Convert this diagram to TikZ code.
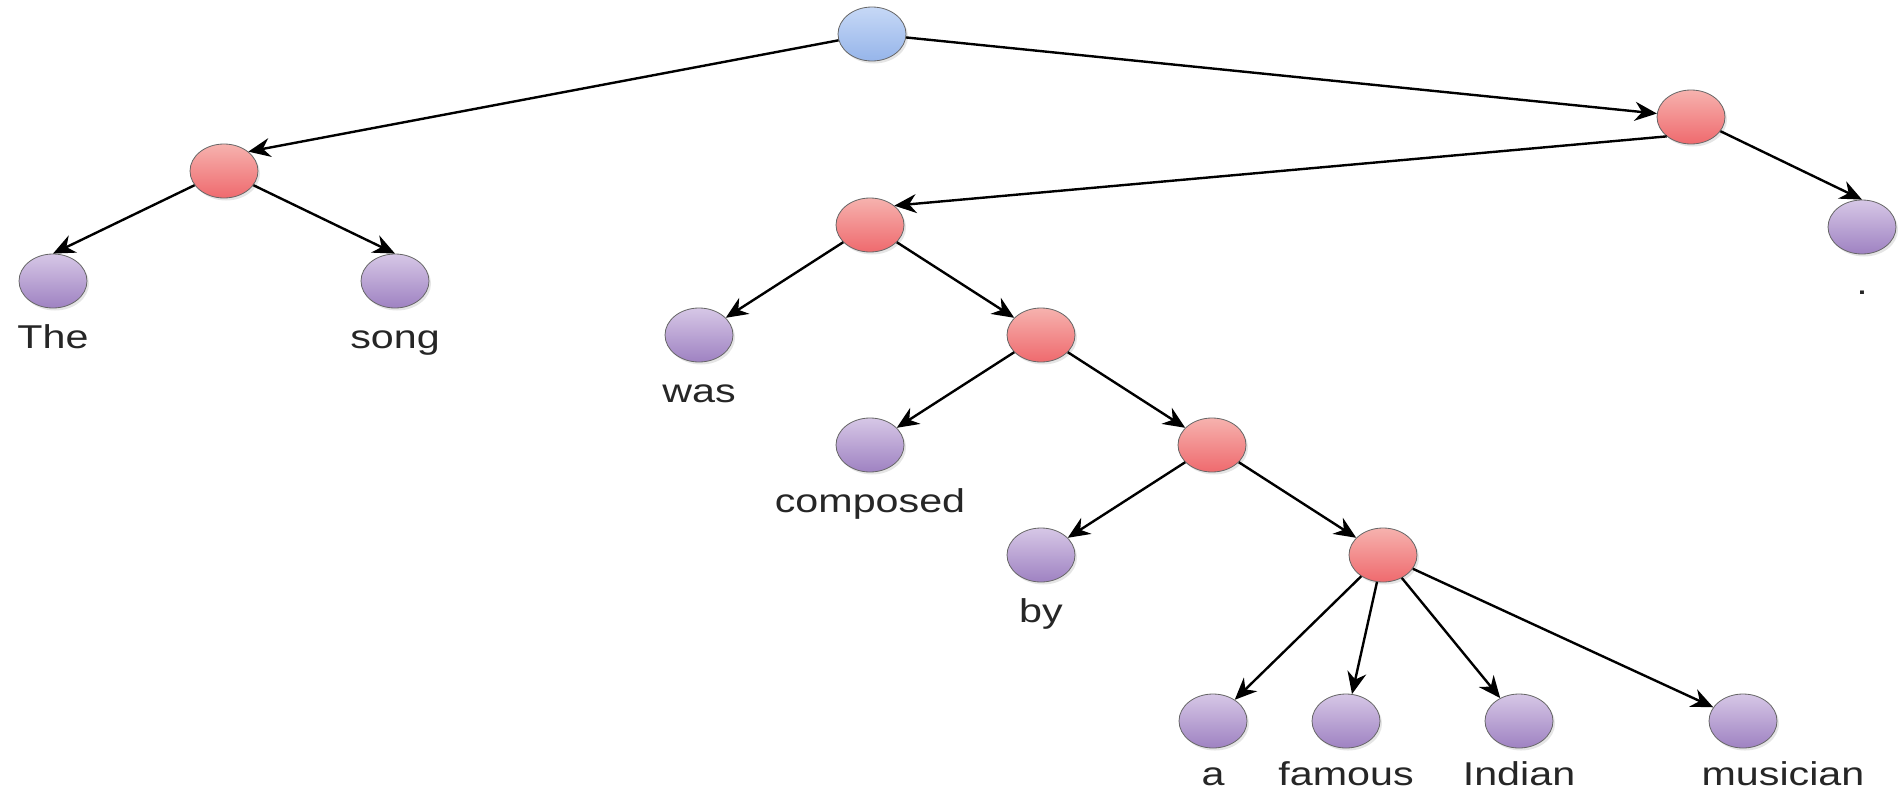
\documentclass[tikz,border=0pt]{standalone}
\usepackage{fontspec}
\setmainfont{Liberation Sans}[FakeStretch=1.25]
\usetikzlibrary{positioning, arrows.meta, shapes.geometric, shadows}

\definecolor{roottop}{HTML}{C6D8F6}
\definecolor{rootbot}{HTML}{96B5EA}
\definecolor{phrasetop}{HTML}{F6B2AE}
\definecolor{phrasebot}{HTML}{EF6A6E}
\definecolor{leaftop}{HTML}{D6C7E6}
\definecolor{leafbot}{HTML}{9F82C2}

\tikzset{
  tag/.style={ellipse, minimum width=68pt, minimum height=54pt, inner sep=0pt,
    draw=black!60, line width=0.8pt,
    drop shadow={shadow xshift=2pt, shadow yshift=-2.5pt, fill=black!20, opacity=0.5}},
  rootnode/.style={tag, top color=roottop, bottom color=rootbot},
  phrase/.style={tag, top color=phrasetop, bottom color=phrasebot},
  leaf/.style={tag, top color=leaftop, bottom color=leafbot},
  word/.style={font=\fontsize{33pt}{36pt}\selectfont, text=black!85,
    text height=23pt, text depth=5pt, inner sep=0pt}
}

\begin{document}
\begin{tikzpicture}[>={Stealth[length=22pt, width=19pt]}, line width=2.4pt,
    on grid, node distance=110pt and 171pt]
        \useasboundingbox (0,0) rectangle (1898pt,-793pt);

        \node[rootnode] (root) at (872pt,-34pt) {};

        % Subject
        \node[phrase] (n1) [below left=137pt and 648pt of root] {};
        \node[leaf] (the) [below left=of n1] {};
        \node[leaf] (song) [below right=of n1] {};

        % Predicate and full stop
        \node[phrase] (n2) [below right=83pt and 819pt of root] {};
        \node[leaf] (stop) [below right=of n2] {};

        % Verb chain going down to the right
        \node[phrase] (n3) [below left=108pt and 821pt of n2] {};
        \node[leaf] (was) [below left=of n3] {};
        \node[phrase] (n4) [below right=of n3] {};
        \node[leaf] (composed) [below left=of n4] {};
        \node[phrase] (n5) [below right=of n4] {};
        \node[leaf] (by) [below left=of n5] {};
        \node[phrase] (n6) [below right=of n5] {};

        % Noun phrase
        \node[leaf] (a) [below left=166pt and 170pt of n6] {};
        \node[leaf] (famous) [below left=166pt and 37pt of n6] {};
        \node[leaf] (indian) [below right=166pt and 136pt of n6] {};
        \node[leaf] (musician) [below right=166pt and 360pt of n6] {};

        % Words under the leaves
        \node[word] (wthe) [below=58pt of the] {The};
        \node[word] (wsong) [below=58pt of song] {song};
        \node[word] (wstop) [below=58pt of stop] {.};
        \node[word] (wwas) [below=58pt of was] {was};
        \node[word] (wcomposed) [below=58pt of composed] {composed};
        \node[word] (wby) [below=58pt of by] {by};
        \node[word] (wa) [below=55pt of a] {a};
        \node[word] (wfamous) [below=55pt of famous] {famous};
        \node[word] (windian) [below=55pt of indian] {Indian};
        \node[word] (wmusician) [below right=55pt and 40pt of musician] {musician};

        \path[->]
        (root) edge (n1.north east)
        (root) edge (n2)
        (n1) edge (the.north)
        (n1) edge (song.north)
        (n2.south west) edge (n3.north east)
        (n2) edge (stop.north)
        (n3) edge (was)
        (n3) edge (n4)
        (n4) edge (composed)
        (n4) edge (n5)
        (n5) edge (by)
        (n5) edge (n6)
        (n6) edge (a)
        (n6) edge (famous)
        (n6) edge (indian)
        (n6) edge (musician);
    \end{tikzpicture}
\end{document}
